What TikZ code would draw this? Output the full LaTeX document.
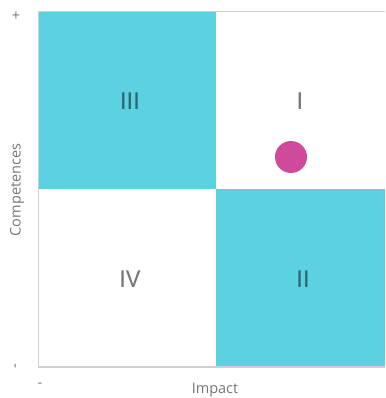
\documentclass[tikz,border=0pt]{standalone}
\usepackage{fontspec}
\setmainfont{Carlito}
\newfontfamily\labfont{Open Sans}
\definecolor{quadcyan}{RGB}{91,209,225}
\definecolor{dotpink}{RGB}{207,74,155}
\definecolor{txtgray}{RGB}{118,118,118}
\definecolor{txtteal}{RGB}{44,104,114}
\definecolor{framegray}{RGB}{208,208,208}
\begin{document}
\begin{tikzpicture}[x=1pt,y=-1pt,
  quad/.style={fill=quadcyan,draw=none},
  roman/.style={font=\fontsize{26}{28}\selectfont,inner sep=0pt},
  axlab/.style={font=\labfont\fontsize{14.5}{16}\selectfont,text=txtgray,inner sep=0pt}]
\useasboundingbox (0,0) rectangle (385,398);
\fill[quadcyan] (39,12) rectangle (216,189);
\fill[quadcyan] (216,189) rectangle (385,367);
\draw[framegray,line width=1.3pt] (385,11.5) -- (38.5,11.5) -- (38.5,367) -- (385,367);
\node[roman,text=txtteal] (q3) at (130,101) {III};
\node[roman,text=txtgray] (q1) at (300,101) {I};
\node[roman,text=txtgray] (q4) at (130,279) {IV};
\node[roman,text=txtteal] (q2) at (303,279) {II};
\node[circle,fill=dotpink,minimum size=32pt,inner sep=0pt] (dot) at (291,157) {};
\node[axlab] (xl) at (215,390) {Impact};
\node[axlab,rotate=90] (yl) at (17,190) {Competences};
\node[axlab] (yp) at (16,16) {+};
\node[axlab,rotate=90] (ym) at (17,366) {-};
\node[axlab] (xm) at (40,385) {-};
\end{tikzpicture}
\end{document}
